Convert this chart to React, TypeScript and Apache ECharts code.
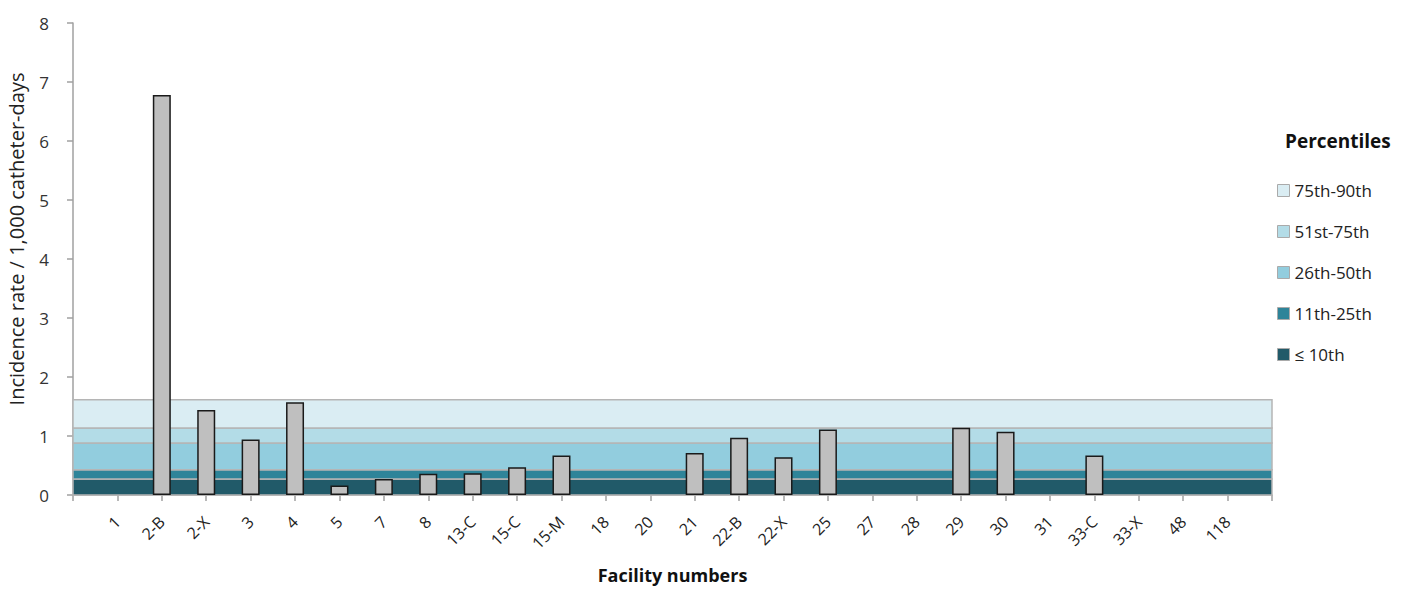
import React, { useEffect, useRef } from "react";
import * as echarts from "echarts";

const facilities = ["", "1","2-B","2-X","3","4","5","7","8","13-C","15-C","15-M","18","20","21","22-B","22-X","25","27","28","29","30","31","33-C","33-X","48","118", ""];
const rates: (number | null)[] = [null, null,6.78,1.44,0.94,1.57,0.16,0.27,0.36,0.37,0.47,0.67,null,null,0.71,0.97,0.64,1.11,null,null,1.14,1.07,null,0.67,null,null,null, null];
const bandNames = ["≤ 10th","11th-25th","26th-50th","51st-75th","75th-90th"];
const bandLimits = [0, 0.27, 0.43, 0.88, 1.135, 1.615];
const bandColors = ["#215A69","#2E8499","#92CDDE","#B3DCE7","#DAEDF3"];
const yTicks = [0, 8, 1];

export default function App() {
  const ref = useRef<HTMLDivElement>(null);
  useEffect(() => {
    if (!ref.current) return;
    const chart = echarts.init(ref.current, undefined, { renderer: "svg" });
    const font = "'Open Sans', Lato, sans-serif";
    const areas = bandNames.map((n, i) => [
      { yAxis: bandLimits[i], itemStyle: { color: bandColors[i] } },
      { yAxis: bandLimits[i + 1] },
    ]);
    const legendOrder = [...bandNames].reverse();
    chart.setOption({
      animation: false,
      textStyle: { fontFamily: font },
      grid: { left: 73, right: 136, top: 23, bottom: 95, containLabel: false, outerBoundsMode: "none" },
      title: {
        text: "Percentiles",
        left: 1280,
        top: 126,
        textStyle: { fontFamily: font, fontSize: 19, fontWeight: "bold", color: "#111" },
      },
      legend: {
        orient: "vertical",
        left: 1272,
        top: 177,
        itemGap: 24,
        itemWidth: 12,
        itemHeight: 12,
        icon: "rect",
        data: legendOrder,
        textStyle: { fontFamily: font, fontSize: 17, color: "#222" },
        itemStyle: { borderColor: "#aaa", borderWidth: 1 },
      },
      xAxis: {
        type: "category",
        data: facilities,
        boundaryGap: false,
        name: "Facility numbers",
        nameLocation: "middle",
        nameGap: 71,
        nameTextStyle: { fontFamily: font, fontSize: 18, fontWeight: "bold", color: "#111" },
        axisLine: { lineStyle: { color: "#a0a0a0", width: 1.5 } },
        axisTick: { show: true, interval: 0, length: 6, lineStyle: { color: "#a0a0a0", width: 1.5 } },
        axisLabel: { interval: 0, rotate: 45, fontSize: 16, color: "#222", margin: 24, fontFamily: font },
      },
      yAxis: {
        type: "value",
        min: yTicks[0],
        max: yTicks[1],
        interval: yTicks[2],
        name: "Incidence rate / 1,000 catheter-days",
        nameLocation: "middle",
        nameGap: 47,
        nameTextStyle: { fontFamily: font, fontSize: 20, color: "#222", padding: [0, 0, 0, 40] },
        splitLine: { show: false },
        axisLine: { show: true, lineStyle: { color: "#a0a0a0", width: 1.5 } },
        axisTick: { show: true, length: 6, lineStyle: { color: "#a0a0a0", width: 1.5 } },
        axisLabel: { fontSize: 17, color: "#333", margin: 24, fontFamily: font },
      },
      series: [
        {
          name: "Rate",
          type: "bar",
          data: rates,
          barWidth: 18,
          z: 5,
          itemStyle: { color: "#BFBFBF", borderColor: "#1a1a1a", borderWidth: 1.5 },
          markArea: {
            silent: true,
            itemStyle: { borderColor: "#b5b5b5", borderWidth: 1.5 },
            data: areas,
          },
        },
        ...bandNames.map((n, i) => ({
          name: n,
          type: "line",
          data: [],
          itemStyle: { color: bandColors[i] },
          lineStyle: { color: bandColors[i] },
        })),
      ],
    });
    return () => chart.dispose();
  }, []);
  return <div ref={ref} style={{ position: "absolute", left: 0, top: 0, width: 1408, height: 590 }} />;
}
